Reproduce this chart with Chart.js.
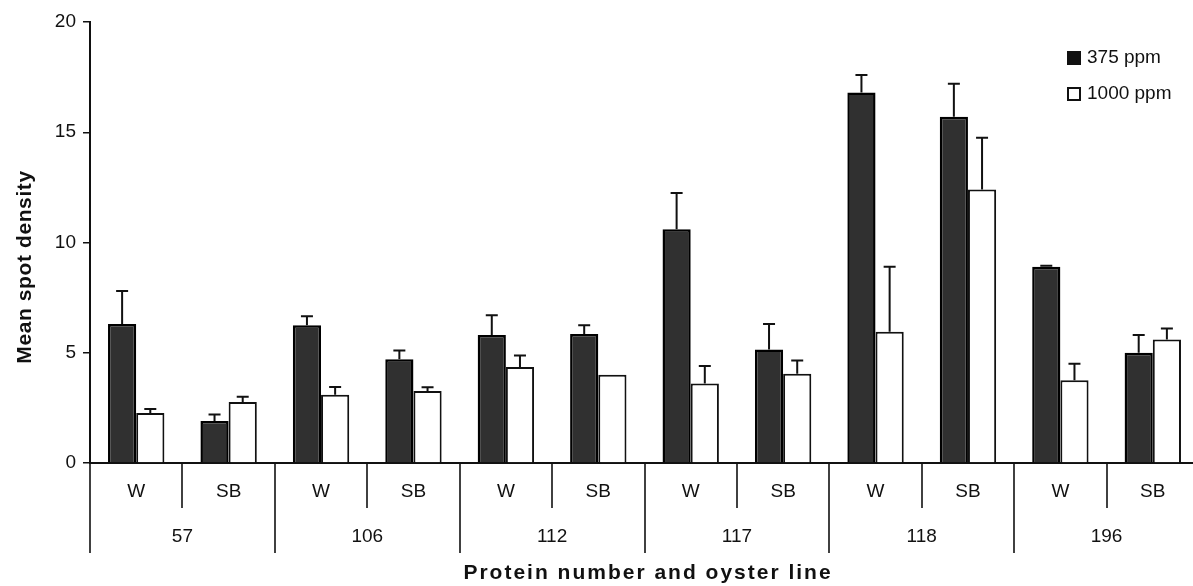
<!DOCTYPE html>
<html>
<head>
<meta charset="utf-8">
<script src="https://cdn.jsdelivr.net/npm/chart.js@4.4.0/dist/chart.umd.min.js"></script>
<style>
  html, body { margin: 0; padding: 0; background: #fff; overflow: hidden; }
</style>
</head>
<body>
<canvas id="chart" width="1199" height="586"></canvas>
<script>
// oyster line under each bar pair, and the protein each pair of lines belongs to
const lines = ['W', 'SB', 'W', 'SB', 'W', 'SB', 'W', 'SB', 'W', 'SB', 'W', 'SB'];
const proteins = ['57', '106', '112', '117', '118', '196'];

// mean spot density and the upper error (SE) per bar
const mean375 = [6.3, 1.9, 6.25, 4.7, 5.8, 5.85, 10.6, 5.15, 16.8, 15.7, 8.9, 5.0];
const err375 = [1.5, 0.3, 0.4, 0.4, 0.9, 0.4, 1.65, 1.15, 0.8, 1.5, 0.05, 0.8];
const mean1000 = [2.27, 2.77, 3.1, 3.27, 4.35, 4.0, 3.6, 4.05, 5.95, 12.4, 3.75, 5.6];
const err1000 = [0.18, 0.23, 0.35, 0.16, 0.52, 0, 0.8, 0.6, 2.95, 2.35, 0.75, 0.5];

const seriesNames = ['375 ppm', '1000 ppm'];
const yTitle = 'Mean spot density';
const xTitle = 'Protein number and oyster line';

const INK = '#111';
const DARK = '#303030';
const FONT = '"Liberation Sans", Arial, sans-serif';

// error bars, the two-level category axis, titles and the legend
const extras = {
    id: 'extras',
    afterDatasetsDraw(chart) {
        const ctx = chart.ctx;
        const y = chart.scales.y;
        ctx.save();
        ctx.strokeStyle = INK;
        ctx.lineWidth = 2;
        chart.data.datasets.forEach((ds, i) => {
            chart.getDatasetMeta(i).data.forEach((bar, j) => {
                const e = ds.errors[j];
                if (!e) return;
                const top = y.getPixelForValue(ds.data[j] + e);
                ctx.beginPath();
                ctx.moveTo(bar.x, bar.y);
                ctx.lineTo(bar.x, top);
                ctx.moveTo(bar.x - 6, top);
                ctx.lineTo(bar.x + 6, top);
                ctx.stroke();
            });
        });
        ctx.restore();
    },
    afterDraw(chart) {
        const ctx = chart.ctx;
        const x = chart.scales.x;
        const area = chart.chartArea;
        const step = x.width / lines.length;
        ctx.save();

        // separators below the axis
        ctx.strokeStyle = INK;
        ctx.lineWidth = 1.6;
        for (let i = 0; i <= lines.length; i++) {
            const px = Math.round(x.left + i * step);
            ctx.beginPath();
            ctx.moveTo(px, area.bottom);
            ctx.lineTo(px, area.bottom + (i % 2 === 0 ? 90 : 45));
            ctx.stroke();
        }

        ctx.fillStyle = INK;
        ctx.textAlign = 'center';
        ctx.textBaseline = 'middle';
        ctx.font = '19px ' + FONT;
        lines.forEach((l, j) => ctx.fillText(l, x.getPixelForValue(j), area.bottom + 29));
        proteins.forEach((p, k) => {
            const px = (x.getPixelForValue(2 * k) + x.getPixelForValue(2 * k + 1)) / 2;
            ctx.fillText(p, px, area.bottom + 74);
        });

        // axis titles
        ctx.font = 'bold 21px ' + FONT;
        ctx.letterSpacing = '2px';
        ctx.fillText(xTitle, 648, 573);
        ctx.save();
        ctx.translate(25, 267);
        ctx.rotate(-Math.PI / 2);
        ctx.font = 'bold 21px ' + FONT;
        ctx.letterSpacing = '0.6px';
        ctx.fillText(yTitle, 0, 0);
        ctx.restore();
        ctx.letterSpacing = '0px';

        // legend
        ctx.textAlign = 'left';
        ctx.font = '19px ' + FONT;
        seriesNames.forEach((name, i) => {
            const cy = 58 + i * 36;
            if (i === 0) {
                ctx.fillStyle = INK;
                ctx.fillRect(1067, cy - 7, 14, 14);
            } else {
                ctx.lineWidth = 2;
                ctx.strokeRect(1068, cy - 6, 12, 12);
            }
            ctx.fillStyle = INK;
            ctx.fillText(name, 1087, cy);
        });
        ctx.restore();
    }
};

new Chart(document.getElementById('chart'), {
    type: 'bar',
    data: {
        labels: lines,
        datasets: [
            {
                label: seriesNames[0],
                data: mean375,
                errors: err375,
                backgroundColor: DARK,
                borderColor: '#000',
                borderWidth: 2.5,
            },
            {
                label: seriesNames[1],
                data: mean1000,
                errors: err1000,
                backgroundColor: '#fff',
                borderColor: INK,
                borderWidth: 2,
            },
        ],
    },
    options: {
        responsive: false,
        animation: false,
        layout: { padding: { top: 22, right: 0, left: 0, bottom: 0 } },
        datasets: {
            bar: { categoryPercentage: 0.61, barPercentage: 1.0 },
        },
        plugins: {
            legend: { display: false },
            tooltip: { enabled: false },
        },
        scales: {
            x: {
                afterFit: (s) => { s.height = 123; },
                ticks: { display: false },
                grid: { display: false },
                border: { display: true, color: INK, width: 2 },
            },
            y: {
                min: 0,
                max: 20,
                afterFit: (s) => { s.width = 90; },
                ticks: {
                    stepSize: 5,
                    color: INK,
                    padding: 7,
                    font: { family: FONT, size: 19 },
                },
                grid: { drawOnChartArea: false, tickLength: 7, color: INK, lineWidth: 1.5 },
                border: { display: true, color: INK, width: 2 },
            },
        },
    },
    plugins: [extras],
});
</script>
</body>
</html>
